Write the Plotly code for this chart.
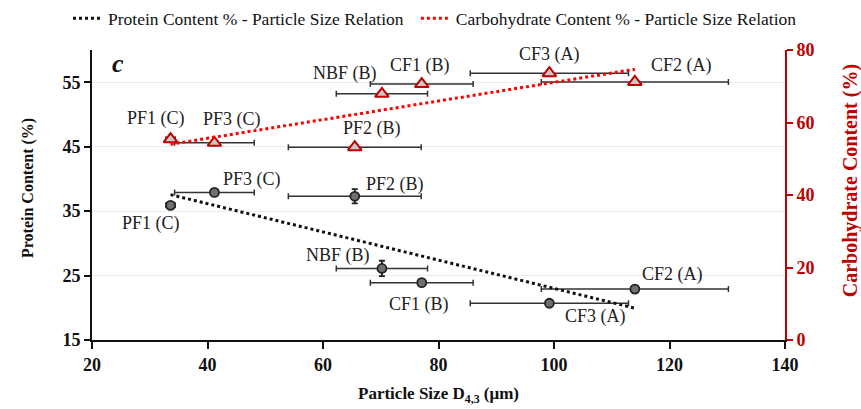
import numpy as np
import plotly.graph_objects as go

# ---------------- data ----------------
samples = ["PF1 (C)", "PF3 (C)", "PF2 (B)", "NBF (B)", "CF1 (B)", "CF2 (A)", "CF3 (A)"]
particle_size = [33.6, 41.2, 65.5, 70.2, 77.1, 114.0, 99.2]
particle_size_err = [0.8, 6.9, 11.5, 7.9, 8.9, 16.2, 13.7]
protein = [35.9, 37.9, 37.3, 26.1, 23.9, 22.9, 20.7]
protein_err = [0.5, 0.5, 1.1, 1.2, 0.5, 0.3, 0.3]
carbohydrate = [55.4, 54.4, 53.2, 67.9, 70.6, 71.2, 73.6]

x_ticks = [20, 40, 60, 80, 100, 120, 140]
protein_ticks = [15, 25, 35, 45, 55]
carb_ticks = [0, 20, 40, 60, 80]

# ---------------- styles ----------------
FONT = "Liberation Serif, Times New Roman, serif"
DARKRED = "#c00000"
protein_label_shift = [(-20, 18), (38, -13), (40, -12), (-44, -13), (-3, 22), (38, -15), (46, 13)]
carb_label_shift = [(-15, -21), (18, -23), (17, -19), (-37, -20), (-2, -19), (47, -16), (0, -19)]

# trendlines computed from data
xa = np.array(particle_size)
xs = np.array([xa.min(), xa.max()])
p_fit = np.polyfit(xa, np.array(protein), 1)
c_fit = np.polyfit(xa, np.array(carbohydrate), 1)

fig = go.Figure()

# protein points
fig.add_trace(go.Scatter(
    x=particle_size, y=protein, mode="markers", showlegend=False,
    marker=dict(symbol="circle", size=9, color="#707070", line=dict(color="#222222", width=1.8)),
    error_x=dict(type="data", array=particle_size_err, color="#333333", thickness=1.5, width=3),
    error_y=dict(type="data", array=protein_err, color="#222222", thickness=1.8, width=3),
    yaxis="y"))

# carbohydrate points
fig.add_trace(go.Scatter(
    x=particle_size, y=carbohydrate, mode="markers", showlegend=False,
    marker=dict(symbol="triangle-up", size=12, color="#c8c8c8", line=dict(color=DARKRED, width=2)),
    error_x=dict(type="data", array=particle_size_err, color="#333333", thickness=1.5, width=3),
    yaxis="y2"))

# trendlines
fig.add_trace(go.Scatter(
    x=xs, y=np.polyval(p_fit, xs), mode="lines",
    name="Protein Content % - Particle Size Relation", legend="legend",
    line=dict(color="#111111", width=3, dash="dot"), yaxis="y"))
fig.add_trace(go.Scatter(
    x=xs, y=np.polyval(c_fit, xs), mode="lines",
    name="Carbohydrate Content % - Particle Size Relation", legend="legend2",
    line=dict(color="#ff0000", width=3, dash="dot"), yaxis="y2"))

annotations = []
for s, x, y, (dx, dy) in zip(samples, particle_size, protein, protein_label_shift):
    annotations.append(dict(x=x, y=y, xref="x", yref="y", text=s, showarrow=False,
                            xshift=dx, yshift=-dy,
                            font=dict(family=FONT, size=18, color="#222222")))
for s, x, y, (dx, dy) in zip(samples, particle_size, carbohydrate, carb_label_shift):
    annotations.append(dict(x=x, y=y, xref="x", yref="y2", text=s, showarrow=False,
                            xshift=dx, yshift=-dy,
                            font=dict(family=FONT, size=18, color="#222222")))
annotations.append(dict(x=0.0375, y=0.952, xref="paper", yref="paper", text="<b><i>c</i></b>",
                        xanchor="center", yanchor="middle",
                        showarrow=False, font=dict(family=FONT, size=26, color="#111111")))
# axis titles
annotations.append(dict(x=-0.092, y=0.525, xref="paper", yref="paper", textangle=-90,
                        xanchor="center", yanchor="middle",
                        text="<b>Protein Content (%)</b>", showarrow=False,
                        font=dict(family=FONT, size=16, color="#111111")))
annotations.append(dict(x=1.094, y=0.548, xref="paper", yref="paper", textangle=-90,
                        xanchor="center", yanchor="middle",
                        text="<b>Carbohydrate Content (%)</b>", showarrow=False,
                        font=dict(family=FONT, size=20, color=DARKRED)))

legend_common = dict(orientation="h", xref="container", yref="container",
                     xanchor="left", y=0.955, yanchor="middle",
                     font=dict(family=FONT, size=17.5, color="#111111"),
                     itemwidth=30, bgcolor="rgba(0,0,0,0)")

fig.update_layout(
    width=861, height=409,
    margin=dict(l=92, r=76, t=50, b=69, autoexpand=False),
    paper_bgcolor="white", plot_bgcolor="white",
    font=dict(family=FONT, color="#111111"),
    legend=dict(x=0.079, **legend_common),
    legend2=dict(x=0.483, **legend_common),
    annotations=annotations,
    xaxis=dict(range=[20, 140], tickvals=x_ticks, showgrid=False, zeroline=False,
               showline=True, linecolor="#111111", linewidth=2, automargin=False,
               ticks="outside", ticklen=7, tickwidth=2, tickcolor="#111111",
               tickfont=dict(family=FONT, size=18, color="#111111", weight="bold"),
               title=dict(text="<b>Particle Size D<sub>4,3</sub> (μm)</b>", standoff=14,
                          font=dict(family=FONT, size=17, color="#111111"))),
    xaxis2=dict(range=[20, 140], tickvals=x_ticks, overlaying="x", anchor="y", side="bottom",
                showgrid=False, zeroline=False, showline=False, showticklabels=False,
                ticks="inside", ticklen=7, tickwidth=2, tickcolor="#111111"),
    yaxis=dict(range=[15, 60], tickvals=protein_ticks, showgrid=True, gridcolor="#ebebeb",
               gridwidth=1, zeroline=False, showline=True, linecolor="#111111", linewidth=2,
               automargin=False,
               ticks="outside", ticklen=6, tickwidth=2, tickcolor="#111111",
               tickfont=dict(family=FONT, size=18, color="#111111", weight="bold")),
    yaxis2=dict(range=[0, 80], tickvals=carb_ticks, overlaying="y", side="right", anchor="x",
                showgrid=False, zeroline=False, showline=True, linecolor=DARKRED, linewidth=2,
                automargin=False,
                ticks="outside", ticklen=6, tickwidth=2, tickcolor=DARKRED,
                tickfont=dict(family=FONT, size=18, color=DARKRED, weight="bold")),
)

fig.write_html("out.html")
